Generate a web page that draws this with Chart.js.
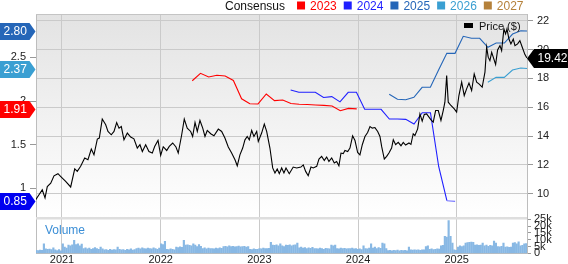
<!DOCTYPE html>
<html>
<head>
<meta charset="utf-8">
<script src="https://cdn.jsdelivr.net/npm/chart.js@4.4.1/dist/chart.umd.min.js"></script>
<style>
  html, body { margin: 0; padding: 0; background: #ffffff; }
  #wrap { position: relative; width: 568px; height: 264px; }
  canvas { display: block; }
</style>
</head>
<body>
<div id="wrap"><canvas id="c" width="568" height="264"></canvas></div>
<script>
// ---------------- DATA ----------------
// Price ($), x = decimal year
const priceDates = [2020.734,2020.767,2020.800,2020.828,2020.851,2020.886,2020.919,2020.959,2020.993,2021.037,
  2021.088,2021.129,2021.155,2021.189,2021.230,2021.263,2021.297,2021.324,2021.358,2021.378,
  2021.408,2021.443,2021.466,2021.499,2021.527,2021.554,2021.578,2021.601,2021.628,2021.662,
  2021.696,2021.729,2021.763,2021.790,2021.814,2021.848,2021.881,2021.915,2021.939,2021.973,
  2022.000,2022.026,2022.061,2022.087,2022.122,2022.155,2022.178,2022.213,2022.239,2022.269,
  2022.304,2022.324,2022.348,2022.371,2022.398,2022.426,2022.449,2022.472,2022.507,2022.540,
  2022.584,2022.618,2022.651,2022.685,2022.719,2022.753,2022.776,2022.803,2022.831,2022.854,
  2022.877,2022.898,2022.922,2022.945,2022.973,2022.989,2023.023,2023.050,2023.074,2023.107,
  2023.135,2023.158,2023.181,2023.202,2023.226,2023.249,2023.270,2023.303,2023.343,2023.378,
  2023.421,2023.445,2023.469,2023.495,2023.523,2023.546,2023.581,2023.604,2023.631,2023.658,
  2023.682,2023.705,2023.733,2023.759,2023.783,2023.806,2023.827,2023.850,2023.867,2023.895,
  2023.918,2023.945,2023.969,2023.996,2024.019,2024.043,2024.070,2024.097,2024.121,2024.144,
  2024.171,2024.199,2024.222,2024.239,2024.266,2024.290,2024.313,2024.340,2024.357,2024.381,
  2024.407,2024.435,2024.458,2024.482,2024.516,2024.536,2024.559,2024.576,2024.604,2024.627,
  2024.650,2024.671,2024.695,2024.739,2024.762,2024.786,2024.813,2024.840,2024.863,2024.880,
  2024.898,2024.914,2024.941,2024.975,2024.999,2025.022,2025.050,2025.076,2025.100,2025.124,
  2025.151,2025.177,2025.202,2025.225,2025.258,2025.286,2025.303,2025.319,2025.336,2025.354,
  2025.370,2025.394,2025.414,2025.438,2025.455,2025.478,2025.495,2025.509,2025.529,2025.549,
  2025.573,2025.590,2025.617,2025.640,2025.664,2025.691,2025.711];
const priceValues = [9.59,9.93,10.27,9.71,10.5,10.73,11.24,11.39,11.16,10.86,
  10.47,11.72,11.55,11.9,12.48,12.36,13.1,12.7,13.79,13.86,
  15.18,14.78,14.32,14.09,14.32,14.94,14.55,14.66,13.74,14.21,
  13.93,13.81,13.17,13.4,12.93,13.4,12.93,12.82,13.28,13.7,
  12.66,13.26,13.0,13.28,13.52,13.24,12.82,14.09,15.18,14.55,
  14.32,13.97,14.94,14.32,15.08,14.55,13.97,14.39,14.16,14.02,
  14.48,14.32,13.86,13.24,12.82,12.36,11.94,12.7,13.17,13.74,
  13.97,13.74,14.39,13.97,14.32,13.63,14.21,14.83,14.32,13.17,
  11.79,11.44,11.72,11.39,11.79,11.44,11.79,11.39,11.85,11.79,
  11.85,12.0,11.55,11.25,11.85,11.79,11.9,12.41,12.59,12.31,
  12.55,12.24,12.48,12.13,12.24,11.94,12.82,12.78,13.0,12.93,
  13.17,14.02,13.69,12.86,12.7,13.4,13.97,14.25,14.66,14.55,
  14.59,14.32,13.97,13.28,12.41,12.59,12.82,13.17,13.74,13.4,
  13.56,13.33,13.56,13.38,13.52,13.42,14.16,14.04,14.5,15.54,
  15.04,15.5,15.54,15.13,14.97,15.77,15.77,15.08,15.77,16.35,
  18.19,16.35,16.12,15.89,15.66,16.81,17.74,16.81,17.27,17.67,
  17.16,18.31,17.74,17.62,17.39,18.43,20.16,19.47,19.23,19.81,
  19.47,18.96,19.97,20.27,19.92,21.43,21.08,21.43,20.73,20.39,
  20.73,20.27,20.39,20.62,20.16,19.65,19.42];

// Consensus EPS estimates, monthly points from the given start (decimal year)
const eps2023Start = 2022.320;
const eps2023 = [2.232,2.317,2.275,2.295,2.286,2.235,2.025,1.968,1.966,2.08,2.005,2.011,1.972,1.962,1.960,1.955,1.950,1.942,1.889,1.915,1.91];
const eps2024Start = 2023.317;
const eps2024 = [2.126,2.10,2.10,2.10,2.04,2.05,1.99,2.10,2.10,1.905,1.905,1.905,1.794,1.794,1.79,1.737,1.866,1.866,1.25,0.858,0.85];
const eps2025Start = 2024.316;
const eps2025 = [2.077,2.02,2.015,2.042,2.157,2.157,2.355,2.546,2.546,2.741,2.718,2.718,2.615,2.664,2.664,2.767,2.805,2.80];
const eps2026Start = 2025.315;
const eps2026 = [2.214,2.271,2.271,2.355,2.378,2.37];
const eps2027 = [];

// Weekly volume (thousands), first week at volStart
const volStart = 2020.74;
const volume = [2.2,2.0,2.3,2.1,7,3.2,3.0,3.1,2.8,4,
  2.5,2.0,2.8,1.8,7,4.5,3.8,6,5.5,6.2,
  9.5,6.5,7,5.5,6.8,3.5,4,3.2,3.8,3,
  3.5,4.2,3.5,3,4.5,3.2,2.5,2.8,2.2,3,
  2.4,2.8,2.5,4.5,3,2.5,2.8,2.2,3,2.6,
  3.2,2.4,2.8,3.5,3.8,3.2,4,3.5,3.3,3.8,
  3.5,3.2,4,3.5,3,3.8,7,6.5,8.8,3,
  2.8,3.2,3,2.6,4.5,4.2,4.8,4.3,9.5,6,
  6.2,5.8,5.5,7,6,5,6.5,5.2,3.5,4,
  3.2,3.8,3.5,3.5,3.2,3.8,3.5,4,3.6,5,
  5.2,4.8,5.5,5,5.2,4.8,5,5.3,4.8,5,
  5.2,4.6,5,3,2.8,3.2,3,2.9,3.5,3.2,
  3.8,3.5,3.4,3.6,8,6,5.8,6.2,5.5,7,
  5.5,5,6,5.8,6.2,5.5,6,6.3,7.5,4,
  4.5,3.8,4.2,3.5,4,3.6,4.3,3.5,3.5,3.2,
  3.8,3.5,3,3.6,3.4,3.2,6,5.5,6,3.5,
  3.2,3.8,3.4,3.6,3.2,3.5,3.4,3.8,3.3,3.5,
  3,3.2,2.8,5.5,3.5,3.2,3.8,7,3.8,4.5,
  3.5,4.2,3.6,7.5,7,3.5,2,2.2,1.8,2.1,
  2,2.3,1.9,2.2,2,2.1,1.9,4.5,2.5,2.3,
  2.6,2.4,2.5,2.2,2.6,2.5,5,5.5,3,3.2,
  2.8,3,3.2,3.1,5.5,5.8,12.5,12,24,12.5,
  7.5,2.5,2.2,4.5,5.5,5,5.5,7.5,7.8,8,
  8.2,8,6,6.2,5.8,6,7.5,5.5,6,5.2,
  5.8,5.5,9,7.5,5,4.8,5.2,7.5,4.5,4.8,
  4.3,4.6,7.5,7.8,7,8.5,5.5,5.8,7,7.2,
  6.5];

// Tick labels
const yearTicks = [2021, 2022, 2023, 2024, 2025];
const priceTicks = [10, 12, 14, 16, 18, 20, 22];
const epsTicks = [1, 1.5, 2, 2.5];
const volTicks = [0, 5, 10, 15, 20, 25];
const legendYears = ['2023', '2024', '2025', '2026', '2027'];

// ---------------- STYLE ----------------
const C2023 = '#ff0000', C2024 = '#1f1fff', C2025 = '#2566b8', C2026 = '#3a9fd2', C2027 = '#b5813a';
const yearColors = [C2023, C2024, C2025, C2026, C2027];
const FONT = "'Liberation Sans', Arial, Helvetica, sans-serif";
const GRID = '#cacaca';

const monthly = (start, arr) => arr.map((v, i) => ({ x: start + i / 12, y: v }));
const weekly = (start, arr) => arr.map((v, i) => ({ x: start + i * 7 / 365.25, y: v }));

const fixWidth = (w) => (s) => { s.width = w; s.paddingTop = 0; s.paddingBottom = 0; };

const decor = {
  id: 'decor',
  beforeDraw(chart) {
    const { ctx, chartArea: a, scales } = chart;
    const sepY = scales.yVol.top;
    const g = ctx.createLinearGradient(0, a.top, 0, sepY);
    g.addColorStop(0, '#e3e3e3');
    g.addColorStop(1, '#ffffff');
    ctx.save();
    ctx.fillStyle = g;
    ctx.fillRect(a.left, a.top, a.right - a.left, sepY - a.top);
    ctx.restore();
  },
  beforeDatasetsDraw(chart) {
    const { ctx, chartArea: a, scales } = chart;
    const sepY = scales.yVol.top;
    ctx.save();
    ctx.fillStyle = '#dedede';
    ctx.fillRect(a.left, sepY - 1, a.right - a.left, 2.5);
    ctx.strokeStyle = '#c4c4c4';
    ctx.lineWidth = 1;
    ctx.beginPath();
    ctx.moveTo(a.left, a.top + 0.5);
    ctx.lineTo(a.right, a.top + 0.5);
    ctx.stroke();
    ctx.fillStyle = '#3b8ed6';
    ctx.font = '12px ' + FONT;
    ctx.textBaseline = 'alphabetic';
    ctx.textAlign = 'left';
    ctx.fillText('Volume', a.left + 9, sepY + 15.5);
    ctx.restore();
  },
  afterDraw(chart) {
    const { ctx, chartArea: a, scales } = chart;
    ctx.save();
    // Top legend
    ctx.font = '12px ' + FONT;
    ctx.textBaseline = 'alphabetic';
    ctx.textAlign = 'left';
    let x = 225;
    const by = 9.5;
    ctx.fillStyle = '#111';
    ctx.fillText('Consensus', x, by);
    x += ctx.measureText('Consensus').width + 12;
    legendYears.forEach((t, i) => {
      ctx.fillStyle = yearColors[i];
      ctx.fillRect(x, 1.5, 8, 8);
      x += 13;
      ctx.fillText(t, x, by);
      x += ctx.measureText(t).width + 7;
    });
    // Price legend
    ctx.fillStyle = '#000';
    ctx.fillRect(464, 23, 9, 5);
    ctx.font = '11px ' + FONT;
    ctx.fillStyle = '#111';
    ctx.fillText('Price ($)', 479, 29.5);

    // EPS badges on the left
    const yE = scales.yEps;
    const leftBadge = (val, color) => {
      const y = Math.round(yE.getPixelForValue(val)) + 0.5;
      ctx.fillStyle = color;
      ctx.beginPath();
      ctx.moveTo(0, y - 8.5);
      ctx.lineTo(29.5, y - 8.5);
      ctx.lineTo(35.5, y);
      ctx.lineTo(29.5, y + 8.5);
      ctx.lineTo(0, y + 8.5);
      ctx.closePath();
      ctx.fill();
      ctx.fillStyle = '#ffffff';
      ctx.font = '12px ' + FONT;
      ctx.textBaseline = 'middle';
      ctx.textAlign = 'left';
      ctx.fillText(val.toFixed(2), 3.5, y + 0.5);
    };
    leftBadge(eps2025[eps2025.length - 1], C2025);
    leftBadge(eps2026[eps2026.length - 1], C2026);
    leftBadge(eps2023[eps2023.length - 1], C2023);
    leftBadge(eps2024[eps2024.length - 1], '#0000f0');

    // Price badge on the right
    const pv = priceValues[priceValues.length - 1];
    const py = Math.round(scales.yPrice.getPixelForValue(pv)) + 0.5;
    ctx.fillStyle = '#000';
    ctx.beginPath();
    ctx.moveTo(a.right, py);
    ctx.lineTo(a.right + 7, py - 9.5);
    ctx.lineTo(568, py - 9.5);
    ctx.lineTo(568, py + 9.5);
    ctx.lineTo(a.right + 7, py + 9.5);
    ctx.closePath();
    ctx.fill();
    ctx.fillStyle = '#fff';
    ctx.font = '12px ' + FONT;
    ctx.textBaseline = 'middle';
    ctx.fillText(pv.toFixed(2), a.right + 10.5, py + 0.5);
    ctx.restore();
  }
};

const tickFont = { family: FONT, size: 11 };

new Chart(document.getElementById('c'), {
  data: {
    datasets: [
      { type: 'line', label: 'Price ($)', data: priceDates.map((d, i) => ({ x: d, y: priceValues[i] })),
        yAxisID: 'yPrice', borderColor: '#000000', borderWidth: 1.1, pointRadius: 0, tension: 0, order: 0 },
      { type: 'line', label: '2023', data: monthly(eps2023Start, eps2023), yAxisID: 'yEps',
        borderColor: C2023, borderWidth: 1.1, pointRadius: 0, tension: 0, order: 1 },
      { type: 'line', label: '2024', data: monthly(eps2024Start, eps2024), yAxisID: 'yEps',
        borderColor: C2024, borderWidth: 1.1, pointRadius: 0, tension: 0, order: 1,
        segment: { borderColor: (c) => c.p1DataIndex === eps2024.length - 1 ? '#7878ff' : undefined } },
      { type: 'line', label: '2025', data: monthly(eps2025Start, eps2025), yAxisID: 'yEps',
        borderColor: C2025, borderWidth: 1.1, pointRadius: 0, tension: 0, order: 1 },
      { type: 'line', label: '2026', data: monthly(eps2026Start, eps2026), yAxisID: 'yEps',
        borderColor: C2026, borderWidth: 1.1, pointRadius: 0, tension: 0, order: 1 },
      { type: 'line', label: '2027', data: monthly(2026.3, eps2027), yAxisID: 'yEps',
        borderColor: C2027, borderWidth: 1.1, pointRadius: 0, order: 1 },
      { type: 'bar', label: 'Volume', data: weekly(volStart, volume), yAxisID: 'yVol',
        backgroundColor: '#88b8e4', borderWidth: 0, barThickness: 1.5, order: 2 }
    ]
  },
  options: {
    responsive: false,
    animation: false,
    devicePixelRatio: 1,
    layout: { padding: { left: 0, right: 0, top: 14, bottom: 0 } },
    plugins: { legend: { display: false }, tooltip: { enabled: false } },
    scales: {
      x: {
        type: 'linear', position: 'bottom', min: 2020.7366, max: 2025.712, offset: false,
        afterBuildTicks: (s) => { s.ticks = yearTicks.map(v => ({ value: v })); },
        afterFit: (s) => { s.height = 10.5; s.paddingLeft = 0; s.paddingRight = 0; },
        ticks: { autoSkip: false, maxRotation: 0, padding: 0, color: '#222', font: tickFont, callback: (v) => String(v) },
        grid: { color: GRID, drawTicks: false, lineWidth: 1, offset: false },
        border: { color: '#bdbdbd' }
      },
      yPrice: {
        type: 'linear', position: 'right', stack: 'right', stackWeight: 204, min: 8.318, max: 22.465,
        afterBuildTicks: (s) => { s.ticks = priceTicks.map(v => ({ value: v })); },
        afterFit: fixWidth(41),
        ticks: { autoSkip: false, padding: 4, color: '#222', font: tickFont, callback: (v) => String(v) },
        grid: { color: GRID, drawTicks: true, tickLength: 6, tickColor: '#999' },
        border: { color: '#bdbdbd' }
      },
      yVol: {
        type: 'linear', position: 'right', stack: 'right', stackWeight: 35.5, min: -0.147, max: 25.96,
        afterBuildTicks: (s) => { s.ticks = volTicks.map(v => ({ value: v })); },
        afterFit: fixWidth(41),
        ticks: { autoSkip: false, padding: 3, color: '#222', font: tickFont, callback: (v) => v === 0 ? '0' : v + 'k' },
        grid: { drawOnChartArea: false, drawTicks: true, tickLength: 4, tickColor: '#999' },
        border: { color: '#bdbdbd' }
      },
      yEps: {
        type: 'linear', position: 'left', min: 0.2532, max: 2.9966,
        afterBuildTicks: (s) => { s.ticks = epsTicks.map(v => ({ value: v })); },
        afterFit: fixWidth(36),
        ticks: { autoSkip: false, padding: 4, color: '#222', font: tickFont, callback: (v) => String(v) },
        grid: { drawOnChartArea: false, drawTicks: true, tickLength: 6, tickColor: '#999' },
        border: { color: '#bdbdbd' }
      }
    }
  },
  plugins: [decor]
});
</script>
</body>
</html>
